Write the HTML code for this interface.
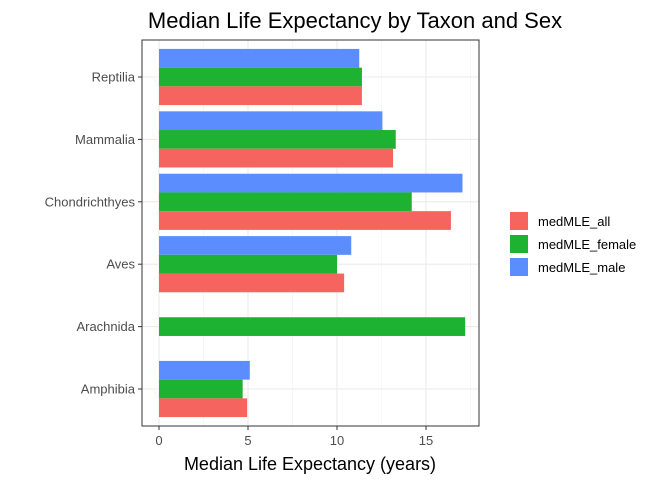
<!DOCTYPE html>
<html><head><meta charset="utf-8"><style>
body{margin:0;background:#fff;font-family:"Liberation Sans",sans-serif;}
</style></head><body>
<svg id="chart" width="672" height="480" xmlns="http://www.w3.org/2000/svg">
<text x="355" y="28" font-size="22" text-anchor="middle" fill="#000">Median Life Expectancy by Taxon and Sex</text>
<g id="grid"></g><g id="bars"></g><g id="axes"></g>
<rect x="142" y="40" width="337" height="386" fill="none" stroke="#333" stroke-width="1"/>
<text x="310" y="470" font-size="18" text-anchor="middle" fill="#000">Median Life Expectancy (years)</text>
<g>
<rect x="510" y="212" width="18" height="18" fill="#F5645E"/>
<text x="538" y="226" font-size="13">medMLE_all</text>
<rect x="510" y="235" width="18" height="18" fill="#1DB232"/>
<text x="538" y="249" font-size="13">medMLE_female</text>
<rect x="510" y="258" width="18" height="18" fill="#5B8DFF"/>
<text x="538" y="272" font-size="13">medMLE_male</text>
</g>
</svg>
<script>
const categories=["Reptilia","Mammalia","Chondrichthyes","Aves","Arachnida","Amphibia"];
const allVals=[11.4,13.15,16.4,10.4,null,4.95];
const femaleVals=[11.4,13.3,14.2,10.0,17.2,4.7];
const maleVals=[11.25,12.55,17.05,10.8,null,5.1];
const xTicks=[0,5,10,15];
const NS="http://www.w3.org/2000/svg";
const svg=document.getElementById('chart');
const grid=document.getElementById('grid'),bars=document.getElementById('bars'),axes=document.getElementById('axes');
const x=v=>159+v*17.8;
const y=i=>77+i*62.4;
function mk(tag,attrs,parent){const e=document.createElementNS(NS,tag);for(const k in attrs)e.setAttribute(k,attrs[k]);parent.appendChild(e);return e;}
for(let v=2.5;v<18;v+=5){const g=mk('line',{x1:x(v),x2:x(v),y1:40,y2:426,stroke:'#f2f2f2','stroke-width':0.6},grid);

}
xTicks.forEach(t=>{const g=mk('line',{x1:x(t),x2:x(t),y1:40,y2:426,stroke:'#ebebeb','stroke-width':1.1},grid);


mk('line',{x1:x(t),x2:x(t),y1:426,y2:430,stroke:'#333'},axes);
const tx=mk('text',{x:x(t),y:445,'font-size':13,'text-anchor':'middle',fill:'#4d4d4d'},axes);tx.textContent=t;

});
categories.forEach((c,i)=>{const g=mk('line',{x1:142,x2:479,y1:y(i),y2:y(i),stroke:'#ebebeb','stroke-width':1.1},grid);


mk('line',{x1:138,x2:142,y1:y(i),y2:y(i),stroke:'#333'},axes);
const tx=mk('text',{x:135,y:y(i)+4.5,'font-size':13,'text-anchor':'end',fill:'#4d4d4d'},axes);tx.textContent=c;


const bh=18.72;
[[maleVals,'#5B8DFF',-1.5,'male'],[femaleVals,'#1DB232',-0.5,'female'],[allVals,'#F5645E',0.5,'all']].forEach(([arr,col,off,n])=>{
const v=arr[i];if(v==null)return;
const r=mk('rect',{x:x(0),y:y(i)+off*bh,width:x(v)-x(0),height:bh,fill:col},bars);

});});
</script>
</body></html>
